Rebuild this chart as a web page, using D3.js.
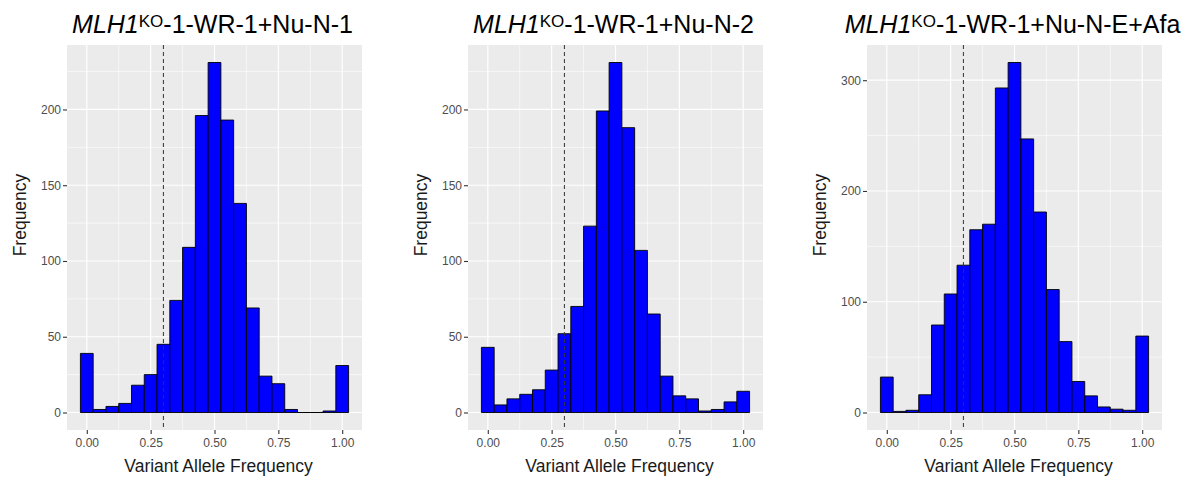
<!DOCTYPE html>
<html>
<head>
<meta charset="utf-8">
<script src="https://cdn.jsdelivr.net/npm/d3@7"></script>
<style>
  body { margin: 0; background: #fff; }
  text { font-family: "Liberation Sans", Arial, Helvetica, sans-serif; }
</style>
</head>
<body>
<div id="chart"></div>
<script>
// bin centres (binwidth 0.05)
const binCenters = [0, 0.05, 0.10, 0.15, 0.20, 0.25, 0.30, 0.35, 0.40, 0.45, 0.50,
                    0.55, 0.60, 0.65, 0.70, 0.75, 0.80, 0.85, 0.90, 0.95, 1.00];
const binWidth = 0.05;

// counts per bin
const countsN1 = [39, 2, 4, 6, 18, 25, 45, 74, 109, 196, 231, 193, 138, 69, 24, 19, 2, 0, 0, 1, 31];
const countsN2 = [43, 5, 9, 12, 15, 28, 52, 70, 123, 199, 231, 188, 107, 65, 24, 11, 9, 1, 2, 7, 14];
const countsNEAfa = [32, 1, 2, 16, 79, 107, 133, 165, 170, 293, 316, 247, 181, 111, 64, 28, 15, 5, 3, 2, 69];

const titleSuffixes = ["-1-WR-1+Nu-N-1", "-1-WR-1+Nu-N-2", "-1-WR-1+Nu-N-E+Afa"];
const yTicksSmall = [0, 50, 100, 150, 200];
const yTicksLarge = [0, 100, 200, 300];
const xTicks = [0, 0.25, 0.50, 0.75, 1.00];
const vafCutoff = 0.3;

const panels = [
  { counts: countsN1, suffix: titleSuffixes[0], yTicks: yTicksSmall, left: 67 },
  { counts: countsN2, suffix: titleSuffixes[1], yTicks: yTicksSmall, left: 468 },
  { counts: countsNEAfa, suffix: titleSuffixes[2], yTicks: yTicksLarge, left: 867 }
];

const W = 1191, H = 481;
const panelW = 295, panelTop = 45, panelBottom = 430;

const svg = d3.select("#chart").append("svg")
  .attr("width", W).attr("height", H);

panels.forEach(p => {
  const x = d3.scaleLinear()
    .domain([-0.0775, 1.0775])
    .range([p.left, p.left + panelW]);
  const maxC = d3.max(p.counts);
  const y = d3.scaleLinear()
    .domain([-maxC * 0.05, maxC * 1.05])
    .range([panelBottom, panelTop]);

  const g = svg.append("g");

  // panel background
  g.append("rect")
    .attr("x", p.left).attr("y", panelTop)
    .attr("width", panelW).attr("height", panelBottom - panelTop)
    .attr("fill", "#ebebeb");

  // minor grid
  const step = p.yTicks[1] - p.yTicks[0];
  const yMinor = p.yTicks.map(t => t + step / 2).filter(t => t < y.domain()[1]);
  const xMinor = xTicks.slice(1).map(t => t - 0.125);
  g.selectAll(".ymin").data(yMinor).enter().append("line")
    .attr("x1", p.left).attr("x2", p.left + panelW)
    .attr("y1", d => y(d)).attr("y2", d => y(d))
    .attr("stroke", "#fff").attr("stroke-width", 0.6);
  g.selectAll(".xmin").data(xMinor).enter().append("line")
    .attr("y1", panelTop).attr("y2", panelBottom)
    .attr("x1", d => x(d)).attr("x2", d => x(d))
    .attr("stroke", "#fff").attr("stroke-width", 0.6);

  // major grid
  g.selectAll(".ymaj").data(p.yTicks).enter().append("line")
    .attr("x1", p.left).attr("x2", p.left + panelW)
    .attr("y1", d => y(d)).attr("y2", d => y(d))
    .attr("stroke", "#fff").attr("stroke-width", 1.2);
  g.selectAll(".xmaj").data(xTicks).enter().append("line")
    .attr("y1", panelTop).attr("y2", panelBottom)
    .attr("x1", d => x(d)).attr("x2", d => x(d))
    .attr("stroke", "#fff").attr("stroke-width", 1.2);

  // bars (paths so zero-height bins still show a line)
  g.selectAll(".bar").data(binCenters).enter().append("path")
    .attr("d", (d, i) => {
      const x0 = x(d - binWidth / 2), x1 = x(d + binWidth / 2);
      const y0 = y(0), y1 = y(p.counts[i]);
      return `M${x0},${y0}V${y1}H${x1}V${y0}Z`;
    })
    .attr("fill", "#0000ff")
    .attr("stroke", "#000")
    .attr("stroke-width", 0.9);

  // cutoff line
  g.append("line")
    .attr("x1", x(vafCutoff)).attr("x2", x(vafCutoff))
    .attr("y1", panelTop).attr("y2", panelBottom)
    .attr("stroke", "#333")
    .attr("stroke-width", 1)
    .attr("stroke-dasharray", "4,3");

  // axes
  const yAxis = g.append("g")
    .attr("transform", `translate(${p.left},0)`)
    .call(d3.axisLeft(y).tickValues(p.yTicks).tickSize(4).tickPadding(2));
  const xAxis = g.append("g")
    .attr("transform", `translate(0,${panelBottom})`)
    .call(d3.axisBottom(x).tickValues(xTicks).tickFormat(d3.format(".2f")).tickSize(4).tickPadding(4));
  [yAxis, xAxis].forEach(a => {
    a.select(".domain").remove();
    a.selectAll(".tick line").attr("stroke", "#333").attr("stroke-width", 1.1);
    a.selectAll(".tick text")
      .attr("fill", "#4d4d4d")
      .style("font-size", "12px")
      .style("font-family", "'Liberation Sans', Arial, sans-serif");
  });

  // axis titles
  g.append("text")
    .attr("x", p.left + panelW / 2 + 4).attr("y", 472)
    .attr("text-anchor", "middle")
    .style("font-size", "17.5px")
    .attr("fill", "#1a1a1a")
    .text("Variant Allele Frequency");
  g.append("text")
    .attr("transform", `translate(${p.left - 41},215) rotate(-90)`)
    .attr("text-anchor", "middle")
    .style("font-size", "17.5px")
    .attr("fill", "#1a1a1a")
    .text("Frequency");

  // title
  const t = g.append("text")
    .attr("x", p.left + panelW / 2 - 2).attr("y", 33)
    .attr("text-anchor", "middle")
    .style("font-size", "25px")
    .attr("fill", "#000");
  t.append("tspan").style("font-style", "italic").text("MLH1");
  t.append("tspan").attr("dy", -6).style("font-size", "17px").text("KO");
  t.append("tspan").attr("dy", 6).text(p.suffix);
});
</script>
</body>
</html>
